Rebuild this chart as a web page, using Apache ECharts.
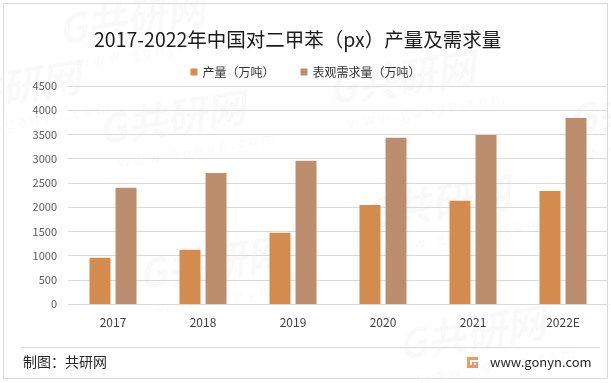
<!DOCTYPE html>
<html>
<head>
<meta charset="utf-8">
<script src="https://cdn.jsdelivr.net/npm/echarts@6/dist/echarts.min.js"></script>
<style>
html,body{margin:0;padding:0;background:#fff;}
#chart{width:611px;height:383px;}
</style>
</head>
<body>
<div id="chart"></div>
<script>
var titleText = '2017-2022年中国对二甲苯（px）产量及需求量';
var categories = ['2017', '2018', '2019', '2020', '2021', '2022E'];
var seriesNames = ['产量（万吨）', '表观需求量（万吨）'];
var production = [955, 1120, 1470, 2045, 2130, 2335];
var demand = [2400, 2705, 2955, 3430, 3490, 3840];
var yTicks = [0, 500, 1000, 1500, 2000, 2500, 3000, 3500, 4000, 4500];
var sourceText = '制图：共研网';
var siteText = 'www.gonyn.com';

var FONT = '"Noto Sans CJK SC", "Noto Sans", sans-serif';
var wmColor = 'rgba(0,0,0,0.022)';

function watermark(x, y) {
  return {
    type: 'group', x: x, y: y, rotation: 0.16, z: 0, silent: true,
    children: [
      { type: 'text', style: { x: 0, y: 0, text: 'G共研网', fill: wmColor, font: 'italic bold 40px ' + FONT } },
      { type: 'text', style: { x: 14, y: 48, text: 'w w w . g o n y n . c o m', fill: wmColor, font: '15px ' + FONT } }
    ]
  };
}

var chart = echarts.init(document.getElementById('chart'), null, { renderer: 'canvas' });
chart.setOption({
  backgroundColor: '#ffffff',
  animation: false,
  textStyle: { fontFamily: FONT },
  title: {
    text: titleText,
    left: 89,
    top: 25,
    textStyle: { fontSize: 19.5, fontWeight: 'normal', color: '#1a1a1a', fontFamily: FONT }
  },
  legend: {
    data: seriesNames,
    left: 'center',
    top: 61,
    icon: 'rect',
    itemWidth: 7,
    itemHeight: 7,
    itemGap: 26,
    textStyle: { fontSize: 12, color: '#333333', fontFamily: FONT }
  },
  grid: { left: 68, right: 3, top: 86, bottom: 79, containLabel: false },
  xAxis: {
    type: 'category',
    data: categories,
    axisLine: { lineStyle: { color: '#d9d9d9' } },
    axisTick: { show: false },
    axisLabel: { color: '#404040', fontSize: 12, margin: 12, fontFamily: FONT }
  },
  yAxis: {
    type: 'value',
    min: yTicks[0],
    max: yTicks[yTicks.length - 1],
    interval: yTicks[1] - yTicks[0],
    axisLine: { show: false },
    axisTick: { show: false },
    axisLabel: { color: '#595959', fontSize: 11, margin: 11, fontFamily: FONT, formatter: function (v) { return String(v); } },
    splitLine: { lineStyle: { color: '#d9d9d9' } }
  },
  series: [
    { name: seriesNames[0], type: 'bar', data: production, barWidth: 21, barGap: '24%', itemStyle: { color: '#D38C4E' }, z: 3 },
    { name: seriesNames[1], type: 'bar', data: demand, barWidth: 21, itemStyle: { color: '#BC8E6D' }, z: 3 }
  ],
  graphic: [
    watermark(55, 10),
    watermark(95, 110),
    watermark(325, 70),
    watermark(135, 255),
    watermark(360, 195),
    watermark(395, 325),
    watermark(565, 100),
    watermark(-70, 80),
    { type: 'rect', shape: { x: 3.5, y: 3.5, width: 604, height: 375 }, style: { fill: 'none', stroke: '#d9d9d9', lineWidth: 1 }, silent: true },
    { type: 'line', shape: { x1: 22, y1: 347.5, x2: 600, y2: 347.5 }, style: { stroke: '#d9d9d9', lineWidth: 1 }, silent: true },
    { type: 'text', style: { x: 23, y: 362, text: sourceText, fill: '#262626', font: '14px ' + FONT, verticalAlign: 'middle' }, silent: true },
    { type: 'rect', shape: { x: 467, y: 357, width: 11, height: 11 },
      style: { fill: new echarts.graphic.LinearGradient(0, 0, 1, 1, [{ offset: 0, color: '#F6A43C' }, { offset: 1, color: '#F08A80' }]) }, silent: true },
    { type: 'rect', shape: { x: 470, y: 360, width: 8, height: 2 }, style: { fill: '#ffffff' }, silent: true },
    { type: 'rect', shape: { x: 470, y: 362, width: 2, height: 3 }, style: { fill: '#ffffff' }, silent: true },
    { type: 'rect', shape: { x: 474, y: 363, width: 2, height: 2 }, style: { fill: '#ffffff' }, silent: true },
    { type: 'text', style: { x: 490, y: 362, text: siteText, fill: '#262626', font: '13px ' + FONT, verticalAlign: 'middle' }, silent: true }
  ]
});
</script>
</body>
</html>
